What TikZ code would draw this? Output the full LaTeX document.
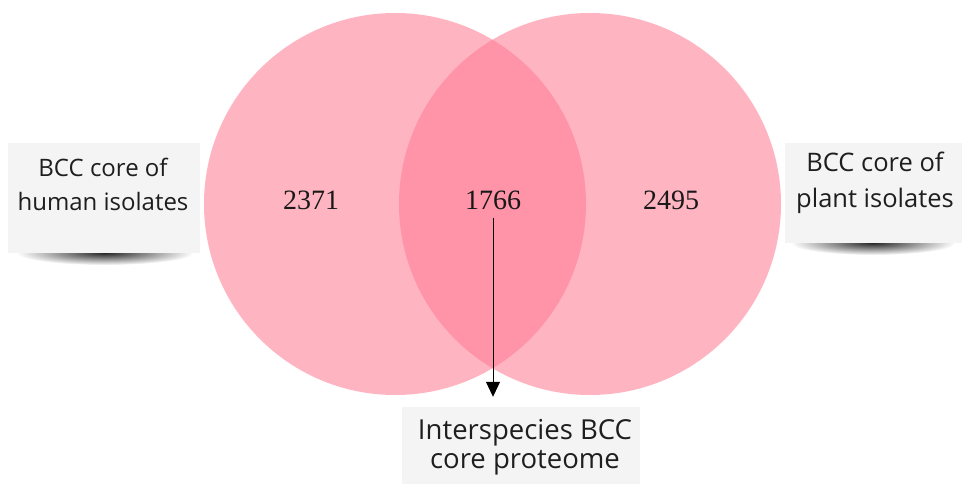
\documentclass[tikz,border=0pt]{standalone}
\usepackage{fontspec}
\setmainfont{Liberation Serif}
\newfontfamily\labelfont{Open Sans}
\usetikzlibrary{fadings,arrows.meta}
\definecolor{vennpink}{RGB}{255,120,145}
\definecolor{boxgray}{RGB}{244,244,244}
\definecolor{textgray}{RGB}{30,30,30}
\tikzfading[name=softshadow, inner color=transparent!0, outer color=transparent!100]
\tikzset{
  venn/.style={circle, inner sep=0pt, minimum size=382pt, fill=vennpink, fill opacity=0.55},
  num/.style={font=\fontsize{28}{30}\selectfont, text=black!90, inner sep=0pt},
  labbox/.style={fill=boxgray, inner sep=0pt},
  labtext/.style={font=\labelfont\fontsize{24}{34}\selectfont, align=center, text=textgray, inner sep=0pt},
  shadowblur/.style={black, opacity=0.85, path fading=softshadow},
  pointer/.style={-{Triangle[width=14pt,length=15pt]}, line width=1pt, black}
}
\begin{document}
\begin{tikzpicture}[x=1pt,y=-1pt]
\useasboundingbox (0,0) rectangle (962,484);
\fill[white] (0,0) rectangle (962,484);
% venn circles
\node[venn] (L) at (395,204) {};
\node[venn] (R) at (590,204) {};
% numbers
\node[num] (nL) at (311,200) {2371};
\node[num] (nC) at (493,200) {1766};
\node[num] (nR) at (671,200) {2495};
% left label
\fill[shadowblur] (105,253) ellipse [x radius=88, y radius=12];
\node[labbox, minimum width=192pt, minimum height=110pt] (lbox) at (104,198) {};
\node[labtext] (ltext) at (103,184) {BCC core of\\human isolates};
% right label
\fill[shadowblur] (873,243) ellipse [x radius=82, y radius=12];
\node[labbox, minimum width=177pt, minimum height=100pt] (rbox) at (873.5,193) {};
\node[labtext, font=\labelfont\fontsize{25.5}{36}\selectfont] (rtext) at (875,183) {BCC core of\\plant isolates};
% bottom label
\node[labbox, minimum width=238pt, minimum height=77pt] (bbox) at (521,445.5) {};
\node[labtext, font=\labelfont\fontsize{27.5}{29}\selectfont] (btext) at (525,447) {Interspecies BCC\\core proteome};
% arrow
\path (nC.south) coordinate (arrstart);
\path (bbox.north -| nC.south) coordinate (arrend);
\draw[pointer] ([yshift=-8pt]arrstart) -- ([yshift=10pt]arrend);
\end{tikzpicture}
\end{document}
